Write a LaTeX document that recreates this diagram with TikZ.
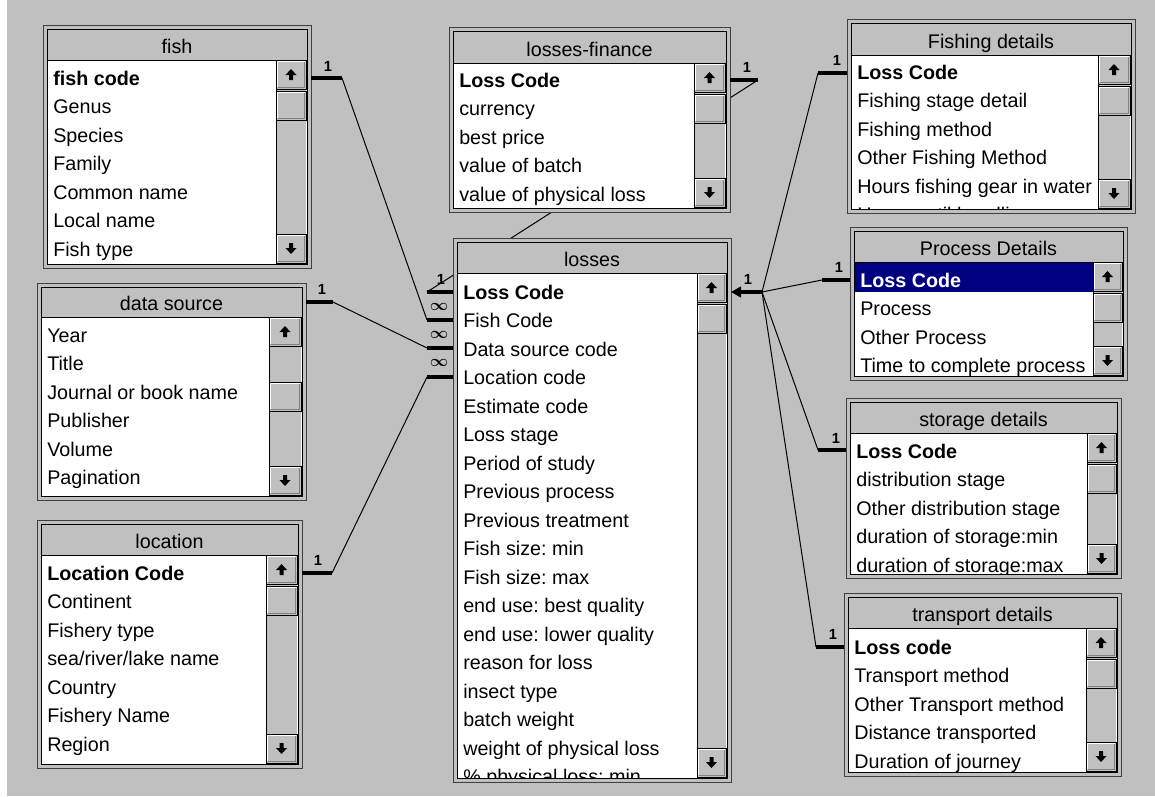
\documentclass[tikz,border=0pt]{standalone}
\usepackage{amsmath}
\usepackage{fontspec}
\setmainfont{Liberation Sans}
\usepackage{tikz}
\usetikzlibrary{arrows.meta}
\definecolor{winbg}{HTML}{C0C0C0}
\definecolor{winsel}{HTML}{000080}
\definecolor{winshade}{HTML}{808080}
\frenchspacing
\tikzset{>=latex}
\tikzset{
  frameout/.style={draw=winshade!50!black, fill=winbg, line width=0.75pt},
  framein/.style={draw=black, fill=white, line width=0.75pt},
  titlebar/.style={draw=black, fill=winbg, line width=0.75pt},
  tabletitle/.style={anchor=base, inner sep=0pt, font=\fontsize{14.8}{17}\selectfont},
  field/.style={anchor=base west, inner sep=0pt, font=\fontsize{14.8}{17}\selectfont},
  keyfield/.style={field, font=\fontsize{14.8}{17}\selectfont\bfseries},
  link/.style={line width=0.75pt},
  stub/.style={line width=2.6pt},
  onelabel/.style={inner sep=0pt, font=\fontsize{11}{11}\selectfont\bfseries},
  manylabel/.style={inner sep=0pt, font=\fontsize{12}{12}\selectfont},
}

% one scroll button: x1, x2, top
\newcommand{\dbbutton}[3]{%
  \fill[winbg] (#1,#3) rectangle (#2,#3+29);
  \draw[white, line width=1.1pt] (#1+1.5,#3+27) -- (#1+1.5,#3+1.5) -- (#2-1.5,#3+1.5);
  \draw[winshade, line width=1.1pt] (#1+1.5,#3+27.5) -- (#2-1.5,#3+27.5) -- (#2-1.5,#3+1.5);
  \draw[line width=0.75pt] (#1,#3) rectangle (#2,#3+29);
}
% scroll bar: x1, x2, top, bottom, thumb top
\newcommand{\dbscroll}[5]{%
  \fill[winbg] (#1,#3) rectangle (#2,#4);
  \draw[line width=0.75pt] (#1,#3) -- (#1,#4);
  \dbbutton{#1}{#2}{#3}
  \dbbutton{#1}{#2}{#5}
  \dbbutton{#1}{#2}{#4-29}
  \fill ({(#1+#2)/2-5.5},#3+15) -- ({(#1+#2)/2},#3+9) -- ({(#1+#2)/2+5.5},#3+15)
    -- ({(#1+#2)/2+2},#3+15) -- ({(#1+#2)/2+2},#3+20) -- ({(#1+#2)/2-2},#3+20)
    -- ({(#1+#2)/2-2},#3+15) -- cycle;
  \fill ({(#1+#2)/2-5.5},#4-15) -- ({(#1+#2)/2},#4-9) -- ({(#1+#2)/2+5.5},#4-15)
    -- ({(#1+#2)/2+2},#4-15) -- ({(#1+#2)/2+2},#4-20) -- ({(#1+#2)/2-2},#4-20)
    -- ({(#1+#2)/2-2},#4-15) -- cycle;
}
% table window: x1, y1, x2, y2, list top, scroll x, title, name, thumb top
\newcommand{\dbtable}[9]{%
  \draw[frameout] (#1,#2) rectangle (#3,#4);
  \draw[framein] (#1+4,#2+4) rectangle (#3-4,#4-4);
  \draw[titlebar] (#1+4,#2+4) rectangle (#3-4,#5);
  \dbscroll{#6}{#3-5}{#5}{#4-5}{#9}
  \node[tabletitle] (#8) at ({(#1+#3)/2},#5-7) {#7};
}

\begin{document}
\begin{tikzpicture}[x=0.75pt,y=-0.75pt]

\fill[white] (0,0) rectangle (1155,796);
\fill[winbg] (7,0) rectangle (1155,796);
\useasboundingbox (0,0) rectangle (1155,796);

% ends of the relation lines
\coordinate (fish-r) at (311,78);
\coordinate (fish-b) at (342,78);
\coordinate (src-r) at (306,302);
\coordinate (src-b) at (333,302);
\coordinate (loc-r) at (302,573);
\coordinate (loc-b) at (332,573);
\coordinate (fin-r) at (730,80);
\coordinate (fin-b) at (758,80);
\coordinate (los-l0) at (453,292);
\coordinate (los-b0) at (427,292);
\coordinate (los-l1) at (453,320);
\coordinate (los-b1) at (427,320);
\coordinate (los-l2) at (453,348);
\coordinate (los-b2) at (427,348);
\coordinate (los-l3) at (453,377);
\coordinate (los-b3) at (427,377);
\coordinate (los-r) at (731,292);
\coordinate (los-b) at (762,292);
\coordinate (fd-l) at (847,73);
\coordinate (fd-b) at (818,73);
\coordinate (pd-l) at (850,280);
\coordinate (pd-b) at (822,280);
\coordinate (sd-l) at (846,450);
\coordinate (sd-b) at (818,450);
\coordinate (td-l) at (844,647);
\coordinate (td-b) at (816,647);

\draw[link] (fish-b) -- (los-b1);
\draw[link] (src-b) -- (los-b2);
\draw[link] (loc-b) -- (los-b3);
\draw[link] (fin-b) -- (los-b0);
\draw[link] (los-b) -- (fd-b);
\draw[link] (los-b) -- (pd-b);
\draw[link] (los-b) -- (sd-b);
\draw[link] (los-b) -- (td-b);

% fish
\dbtable{43}{25}{311}{268}{60}{276}{fish}{fish}{91}
\begin{scope}
\clip (48,61) rectangle (276,263);
\node[keyfield] (fish-0) at (53,85) {fish code};
\foreach \f [count=\i] in {Genus,Species,Family,Common name,Local name,Fish type}
  \node[field] (fish-\i) at (53,{85+28.5*\i}) {\f};
\end{scope}

% data source
\dbtable{37}{283}{306}{500}{317}{269}{data source}{src}{382}
\begin{scope}
\clip (42,318) rectangle (269,495);
\foreach \f [count=\i from 0] in {Year,Title,Journal or book name,Publisher,Volume,Pagination}
  \node[field] (src-\i) at (47,{342+28.5*\i}) {\f};
\end{scope}

% location
\dbtable{37}{520}{302}{768}{555}{266}{location}{loc}{586}
\begin{scope}
\clip (42,556) rectangle (266,763);
\node[keyfield] (loc-0) at (47,580) {Location Code};
\foreach \f [count=\i] in {Continent,Fishery type,sea/river/lake name,Country,Fishery Name,Region}
  \node[field] (loc-\i) at (47,{580+28.5*\i}) {\f};
\end{scope}

% losses-finance
\dbtable{449}{27}{730}{212}{63}{694}{losses-finance}{fin}{94}
\begin{scope}
\clip (454,64) rectangle (694,207);
\node[keyfield] (fin-0) at (459,87) {Loss Code};
\foreach \f [count=\i] in {currency,best price,value of batch,value of physical loss}
  \node[field] (fin-\i) at (459,{87+28.5*\i}) {\f};
\end{scope}

% losses
\dbtable{453}{238}{731}{782}{273}{697}{losses}{los}{304}
\begin{scope}
\clip (458,274) rectangle (697,777);
\node[keyfield] (los-0) at (463,299) {Loss Code};
\foreach \f [count=\i] in {Fish Code,Data source code,Location code,Estimate code,Loss stage,
    Period of study,Previous process,Previous treatment,Fish size: min,Fish size: max,
    end use: best quality,end use: lower quality,reason for loss,insect type,batch weight,
    weight of physical loss,\% physical loss: min}
  \node[field] (los-\i) at (463,{299+28.5*\i}) {\f};
\end{scope}

% Fishing details
\dbtable{847}{19}{1135}{213}{55}{1098}{Fishing details}{fd}{86}
\begin{scope}
\clip (852,56) rectangle (1098,208);
\node[keyfield] (fd-0) at (857,79) {Loss Code};
\foreach \f [count=\i] in {Fishing stage detail,Fishing method,Other Fishing Method,
    Hours fishing gear in water,Hours until handling}
  \node[field] (fd-\i) at (857,{79+28.5*\i}) {\f};
\end{scope}

% Process Details
\dbtable{850}{227}{1127}{380}{262}{1093}{Process Details}{pd}{293}
\begin{scope}
\clip (855,263) rectangle (1093,375);
\fill[winsel] (855,263) rectangle (1093,292);
\node[keyfield, text=white] (pd-0) at (860,287) {Loss Code};
\foreach \f [count=\i] in {Process,Other Process,Time to complete process}
  \node[field] (pd-\i) at (860,{287+28.5*\i}) {\f};
\end{scope}

% storage details
\dbtable{846}{398}{1121}{578}{433}{1087}{storage details}{sd}{464}
\begin{scope}
\clip (851,434) rectangle (1087,573);
\node[keyfield] (sd-0) at (856,458) {Loss Code};
\foreach \f [count=\i] in {distribution stage,Other distribution stage,
    duration of storage:min,duration of storage:max}
  \node[field] (sd-\i) at (856,{458+28.5*\i}) {\f};
\end{scope}

% transport details
\dbtable{844}{593}{1121}{776}{628}{1086}{transport details}{td}{659}
\begin{scope}
\clip (849,629) rectangle (1086,771);
\node[keyfield] (td-0) at (854,654) {Loss code};
\foreach \f [count=\i] in {Transport method,Other Transport method,Distance transported,
    Duration of journey}
  \node[field] (td-\i) at (854,{654+28.5*\i}) {\f};
\end{scope}

% relation ends
\draw[stub] (fish-r) -- (fish-b);
\draw[stub] (src-r) -- (src-b);
\draw[stub] (loc-r) -- (loc-b);
\draw[stub] (fin-r) -- (fin-b);
\draw[stub] (los-b0) -- (los-l0);
\draw[stub] (los-b1) -- (los-l1);
\draw[stub] (los-b2) -- (los-l2);
\draw[stub] (los-b3) -- (los-l3);
\draw[stub, -{Triangle[length=7.5pt,width=8pt]}] (los-b) -- (los-r);
\draw[stub] (fd-b) -- (fd-l);
\draw[stub] (pd-b) -- (pd-l);
\draw[stub] (sd-b) -- (sd-l);
\draw[stub] (td-b) -- (td-l);

\node[onelabel] (fish-one) at (328,66) {1};
\node[onelabel] (src-one) at (322,289) {1};
\node[onelabel] (loc-one) at (318,560) {1};
\node[onelabel] (fin-one) at (747,67) {1};
\node[onelabel] (los-one) at (441,279) {1};
\node[onelabel] (losr-one) at (748,279) {1};
\node[onelabel] (fd-one) at (837,60) {1};
\node[onelabel] (pd-one) at (839,267) {1};
\node[onelabel] (sd-one) at (836,438) {1};
\node[onelabel] (td-one) at (833,634) {1};
\node[manylabel] (los-many1) at (439,307) {$\boldsymbol{\infty}$};
\node[manylabel] (los-many2) at (439,335) {$\boldsymbol{\infty}$};
\node[manylabel] (los-many3) at (439,363) {$\boldsymbol{\infty}$};

\end{tikzpicture}
\end{document}
